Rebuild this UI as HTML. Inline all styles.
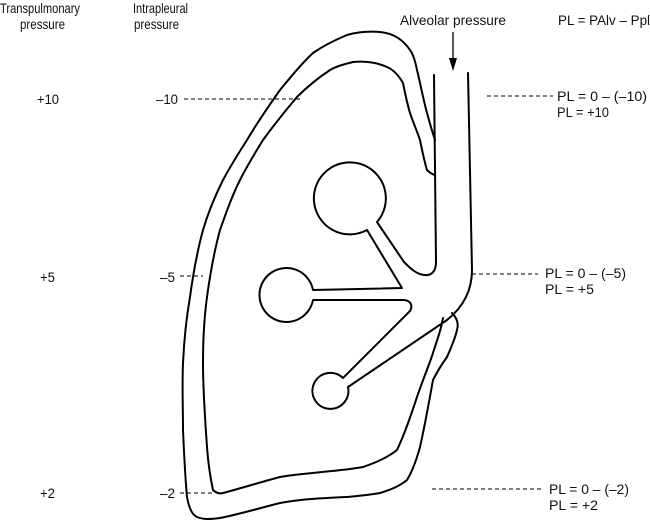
<!DOCTYPE html>
<html><head><style>
html,body{margin:0;padding:0;background:#fff;}
svg{display:block;}
text{font-family:"Liberation Sans",sans-serif;font-size:14px;fill:#111;}
</style></head><body>
<svg width="650" height="523" viewBox="0 0 650 523" xmlns="http://www.w3.org/2000/svg">
<g fill="none" stroke="#000" stroke-width="2" stroke-linejoin="round" stroke-linecap="round">
<path d="M435,140 C431,128 429,120 427,113 C423,98 420,82 417,70 C415,60 413,54 410,50 C402,38 392,33 380,32 C368,31 357,32 347,35 C335,40 323,46 313,53 C300,65 290,78 280,90 C268,107 257,123 247,140 C238,154 230,167 223,180 C215,196 208,213 203,230 C197,252 193,275 190,297 C186,320 184,342 183,363 C182,386 183,408 183,430 C184,453 185,475 187,497 C189,508 192,515 197,517 C204,520 212,519 220,518 C240,514 260,508 280,503 C302,499 325,498 347,497 C358,496 369,495 380,493 C390,490 400,486 407,480 C413,470 417,458 420,447 C425,425 429,402 433,380 C437,372 442,364 447,357 C451,348 455,339 457,330 C459,323 456,317 452,313"/>
<path d="M435,175 C431,174 429,172 427,170 C424,160 422,150 420,140 C417,131 413,122 410,113 C407,103 405,93 403,83 C399,76 394,70 387,67 C376,62 364,61 353,62 C345,64 337,66 330,70 C318,78 307,87 297,97 C285,111 274,125 263,140 C255,153 247,166 240,180 C232,196 226,213 220,230 C214,252 210,275 207,297 C204,319 203,341 203,363 C203,391 205,419 207,447 C208,461 210,476 213,490 C216,493 220,494 223,493 C242,488 261,482 280,477 C291,475 302,474 313,473 C330,471 347,470 363,467 C375,463 387,458 397,450 C405,433 411,415 417,397 C422,382 428,368 433,353 C436,343 440,333 442,323 C442,321 443,319 443,318"/>
<path d="M434,75 L436,262 C436,272 431,276 424,275 C416,274 410,268 404,262 L377,222 A36,36 0 1 0 367,230 L402,288 L313,290 A27,27 0 1 0 313,300 L403,300 C411,300 413,306 410,311 L343,378 A18,18 0 1 0 348,387 L447,320 C462,308 472,292 472,270 L468,73"/>
</g>
<line x1="453" y1="32" x2="453" y2="60" stroke="#000" stroke-width="1.3"/>
<polygon points="449,58 457,58 453,71" fill="#000"/>
<g stroke="#000" stroke-width="1" stroke-dasharray="4,3">
<line x1="184" y1="99" x2="300" y2="99"/>
<line x1="487" y1="96" x2="553" y2="96"/>
<line x1="180" y1="276" x2="203" y2="276"/>
<line x1="472" y1="274" x2="538" y2="274"/>
<line x1="180" y1="493" x2="214" y2="493"/>
<line x1="432" y1="489" x2="542" y2="489"/>
</g>
<text x="0" y="13" textLength="80" lengthAdjust="spacingAndGlyphs">Transpulmonary</text>
<text x="20" y="29" textLength="45" lengthAdjust="spacingAndGlyphs">pressure</text>
<text x="133" y="13" textLength="55" lengthAdjust="spacingAndGlyphs">Intrapleural</text>
<text x="134" y="29" textLength="45" lengthAdjust="spacingAndGlyphs">pressure</text>
<text x="400" y="25" textLength="106" lengthAdjust="spacingAndGlyphs">Alveolar pressure</text>
<text x="558" y="25" textLength="92" lengthAdjust="spacingAndGlyphs">PL = PAlv – Ppl</text>
<text x="37" y="104" textLength="22" lengthAdjust="spacingAndGlyphs">+10</text>
<text x="156" y="104" textLength="22" lengthAdjust="spacingAndGlyphs">–10</text>
<text x="557" y="101" textLength="90" lengthAdjust="spacingAndGlyphs">PL = 0 – (–10)</text>
<text x="557" y="117" textLength="52" lengthAdjust="spacingAndGlyphs">PL = +10</text>
<text x="40" y="282" textLength="15" lengthAdjust="spacingAndGlyphs">+5</text>
<text x="160" y="282" textLength="15" lengthAdjust="spacingAndGlyphs">–5</text>
<text x="545" y="278" textLength="81" lengthAdjust="spacingAndGlyphs">PL = 0 – (–5)</text>
<text x="545" y="294" textLength="49" lengthAdjust="spacingAndGlyphs">PL = +5</text>
<text x="40" y="498" textLength="15" lengthAdjust="spacingAndGlyphs">+2</text>
<text x="160" y="498" textLength="15" lengthAdjust="spacingAndGlyphs">–2</text>
<text x="549" y="494" textLength="80" lengthAdjust="spacingAndGlyphs">PL = 0 – (–2)</text>
<text x="549" y="510" textLength="49" lengthAdjust="spacingAndGlyphs">PL = +2</text>
</svg>
</body></html>
